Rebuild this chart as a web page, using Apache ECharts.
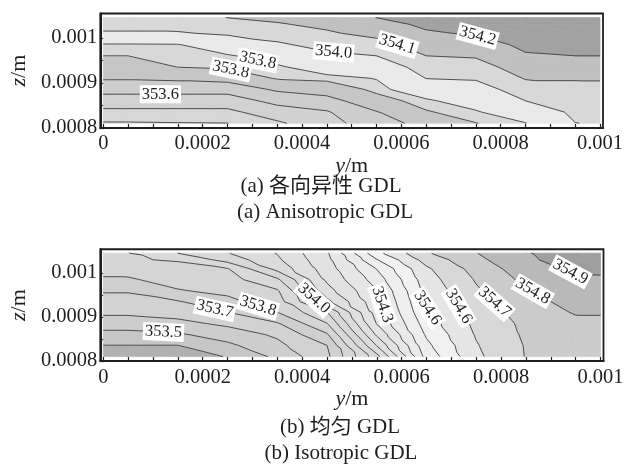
<!DOCTYPE html>
<html>
<head>
<meta charset="utf-8">
<title>GDL temperature contours</title>
<script src="https://cdn.jsdelivr.net/npm/echarts@6/dist/echarts.min.js"></script>
<style>
html, body { margin: 0; padding: 0; background: #fff; }
#chart { width: 627px; height: 468px; }
</style>
</head>
<body>
<div id="chart"></div>
<script>
// ---- mesh node coordinates (m) ----
const yNodes = [0, 0.00005, 0.00015, 0.00025, 0.00035, 0.00045, 0.00055, 0.00065, 0.00075, 0.00085, 0.00095, 0.001];
const zNodes = [0.00081, 0.000835, 0.00086, 0.000885, 0.00091, 0.000935, 0.00096, 0.000985, 0.00101, 0.00103, 0.001045];

// ---- nodal temperature (K): one row per zNodes entry (bottom -> top), one column per yNodes entry ----
const tempAniso = [
  [353.390, 353.390, 353.395, 353.398, 353.484, 353.565, 353.654, 353.735, 353.798, 353.836, 353.998, 354.010],
  [353.477, 353.477, 353.477, 353.477, 353.555, 353.592, 353.695, 353.794, 353.831, 353.910, 354.025, 354.033],
  [353.553, 353.553, 353.553, 353.553, 353.629, 353.662, 353.771, 353.827, 353.886, 354.000, 354.051, 354.057],
  [353.633, 353.633, 353.633, 353.633, 353.714, 353.748, 353.816, 353.899, 353.950, 354.054, 354.077, 354.080],
  [353.710, 353.710, 353.719, 353.736, 353.807, 353.818, 353.843, 354.002, 354.011, 354.106, 354.106, 354.106],
  [353.755, 353.755, 353.801, 353.812, 353.828, 353.886, 353.922, 354.051, 354.060, 354.149, 354.153, 354.153],
  [353.800, 353.800, 353.818, 353.831, 353.884, 353.976, 354.000, 354.100, 354.110, 354.192, 354.200, 354.200],
  [353.832, 353.832, 353.836, 353.911, 353.984, 354.038, 354.066, 354.145, 354.163, 354.218, 354.223, 354.225],
  [353.990, 353.990, 353.990, 354.018, 354.048, 354.089, 354.126, 354.190, 354.209, 354.241, 354.245, 354.248],
  [354.030, 354.030, 354.040, 354.066, 354.093, 354.119, 354.169, 354.216, 354.231, 354.259, 354.263, 354.266],
  [354.050, 354.050, 354.070, 354.101, 354.118, 354.138, 354.201, 354.233, 354.248, 354.272, 354.277, 354.280]
];
const tempIso = [
  [353.400, 353.400, 353.400, 353.444, 353.538, 353.661, 353.971, 354.427, 354.624, 354.723, 354.738, 354.745],
  [353.438, 353.438, 353.438, 353.502, 353.580, 353.679, 354.082, 354.460, 354.634, 354.725, 354.745, 354.755],
  [353.495, 353.495, 353.509, 353.558, 353.613, 353.750, 354.173, 354.491, 354.647, 354.732, 354.760, 354.767],
  [353.559, 353.559, 353.578, 353.616, 353.672, 353.837, 354.243, 354.520, 354.659, 354.738, 354.780, 354.782],
  [353.614, 353.614, 353.630, 353.676, 353.757, 353.915, 354.274, 354.550, 354.674, 354.753, 354.806, 354.806],
  [353.649, 353.649, 353.674, 353.739, 353.805, 354.057, 354.295, 354.568, 354.690, 354.774, 354.826, 354.828],
  [353.688, 353.688, 353.755, 353.780, 353.832, 354.130, 354.316, 354.586, 354.710, 354.794, 354.846, 354.848],
  [353.751, 353.751, 353.790, 353.809, 353.906, 354.175, 354.357, 354.605, 354.727, 354.820, 354.872, 354.872],
  [353.785, 353.790, 353.821, 353.838, 354.027, 354.201, 354.404, 354.628, 354.750, 354.846, 354.890, 354.892],
  [353.810, 353.835, 353.845, 353.952, 354.066, 354.219, 354.475, 354.672, 354.778, 354.871, 354.905, 354.910],
  [353.820, 353.838, 353.920, 353.996, 354.084, 354.231, 354.537, 354.711, 354.797, 354.875, 354.920, 354.930]
];

// ---- contour levels (K) ----
const levelsAniso = [353.4, 353.5, 353.6, 353.7, 353.8, 353.84, 354.0, 354.1, 354.2];
const levelsIso = [353.44, 353.52, 353.60, 353.68, 353.76, 353.84, 353.92, 354.00, 354.08, 354.16,
                   354.24, 354.32, 354.40, 354.48, 354.56, 354.64, 354.72, 354.80, 354.88];

// ---- axis ticks ----
const yTickLabels = [0, 0.0002, 0.0004, 0.0006, 0.0008, 0.001];
const yTickMarks = [0, 0.00005, 0.0001, 0.00015, 0.0002, 0.00025, 0.0003, 0.00035, 0.0004, 0.00045, 0.0005,
                    0.00055, 0.0006, 0.00065, 0.0007, 0.00075, 0.0008, 0.00085, 0.0009, 0.00095, 0.001];
const zTickLabels = [0.0008, 0.0009, 0.001];
const zTickMarks = [0.0008, 0.00085, 0.0009, 0.00095, 0.001];

// ---- captions ----
const captionAniso = ['(a) 各向异性 GDL', '(a) Anisotropic GDL'];
const captionIso = ['(b) 均匀 GDL', '(b) Isotropic GDL'];

// ---- where the inline level labels sit: [level, y, z] ----
const labelSpotsAniso = [
  [353.6, 0.000115, 0.000878], [353.8, 0.000255, 0.000921], [353.84, 0.000312, 0.000955],
  [354.0, 0.000463, 0.000960], [354.1, 0.000590, 0.000978], [354.2, 0.000750, 0.000989]
];
const labelSpotsIso = [
  [353.52, 0.000121, 0.000864], [353.68, 0.000223, 0.000911], [353.76, 0.000312, 0.000927],
  [354.00, 0.000426, 0.000945], [354.32, 0.000571, 0.000932], [354.56, 0.000646, 0.000916],
  [354.64, 0.000719, 0.000927], [354.72, 0.000780, 0.000925], [354.80, 0.000862, 0.000955],
  [354.88, 0.000935, 0.000993]
];

// ---- grey shade of each band (below first level ... above last level) ----
const bandGreysAniso = ['#d9d9d9', '#d7d7d7', '#d2d2d2', '#cdcdcd', '#c6c6c6', '#d8d8d8',
                        '#eaeaea', '#d8d8d8', '#c0c0c0', '#a2a2a2'];
const bandGreysIso = ['#b0b0b0', '#c6c6c6', '#cdcdcd', '#d2d2d2', '#cfcfcf', '#d5d5d5', '#d9d9d9',
                      '#d7d7d7', '#dbdbdb', '#dfdfdf', '#e2e2e2', '#e6e6e6', '#eaeaea', '#eeeeee',
                      '#f1f1f1', '#e5e5e5', '#d8d8d8', '#cbcbcb', '#b9b9b9', '#9e9e9e'];

const SERIF = '"Liberation Serif", "Times New Roman", "Noto Sans CJK SC", serif';
const INK = '#1e1e1e';

// ---------- contouring on a triangulated mesh ----------
function clipPoly(poly, f) {
  const out = [];
  for (let i = 0; i < poly.length; i++) {
    const p = poly[i], q = poly[(i + 1) % poly.length];
    const fp = f(p), fq = f(q);
    if (fp >= 0) out.push(p);
    if ((fp >= 0) !== (fq >= 0)) {
      const t = fp / (fp - fq);
      out.push({ y: p.y + t * (q.y - p.y), z: p.z + t * (q.z - p.z), v: p.v + t * (q.v - p.v) });
    }
  }
  return out;
}

function contour(ys, zs, T, levels) {
  const nx = ys.length, nz = zs.length;
  const node = (i, j) => ({ id: i * nx + j, y: ys[j], z: zs[i], v: T[i][j] });
  const bands = levels.map(() => []).concat([[]]);
  const segs = levels.map(() => []);
  for (let i = 0; i < nz - 1; i++) {
    for (let j = 0; j < nx - 1; j++) {
      const a = node(i, j), b = node(i, j + 1), c = node(i + 1, j + 1), d = node(i + 1, j);
      // split each cell along the top-left / bottom-right diagonal
      [[a, b, d], [b, c, d]].forEach(tri => {
        for (let k = 0; k <= levels.length; k++) {
          let poly = tri;
          if (k > 0) { const lo = levels[k - 1]; poly = clipPoly(poly, p => p.v - lo); }
          if (k < levels.length && poly.length) { const hi = levels[k]; poly = clipPoly(poly, p => hi - p.v); }
          if (poly.length >= 3) bands[k].push(poly.map(p => [p.y, p.z]));
        }
        levels.forEach((L, k) => {
          const pts = [];
          for (let e = 0; e < 3; e++) {
            let p = tri[e], q = tri[(e + 1) % 3];
            if (p.id > q.id) { const s = p; p = q; q = s; }
            if ((p.v >= L) !== (q.v >= L)) {
              const t = (L - p.v) / (q.v - p.v);
              pts.push([p.y + t * (q.y - p.y), p.z + t * (q.z - p.z)]);
            }
          }
          if (pts.length === 2) segs[k].push(pts);
        });
      });
    }
  }
  return { bands, lines: segs.map(chainSegments) };
}

function chainSegments(segs) {
  const key = p => Math.round(p[0] * 1e11) + ',' + Math.round(p[1] * 1e11);
  const ends = new Map();
  segs.forEach((s, idx) => s.forEach(p => {
    const k = key(p);
    if (!ends.has(k)) ends.set(k, []);
    ends.get(k).push(idx);
  }));
  const used = segs.map(() => false);
  const out = [];
  segs.forEach((s0, i) => {
    if (used[i]) return;
    used[i] = true;
    const line = [s0[0], s0[1]];
    [1, -1].forEach(dir => {
      for (;;) {
        const tail = dir === 1 ? line[line.length - 1] : line[0];
        const j = (ends.get(key(tail)) || []).find(n => !used[n]);
        if (j === undefined) break;
        used[j] = true;
        const s = segs[j];
        const next = key(s[0]) === key(tail) ? s[1] : s[0];
        if (dir === 1) line.push(next); else line.unshift(next);
      }
    });
    out.push(line);
  });
  return out;
}

const measureCtx = document.createElement('canvas').getContext('2d');
function textWidth(str, font) { measureCtx.font = font; return measureCtx.measureText(str).width; }

// ---------- panels ----------
const Z_MAX = 0.001054;
const Y_MIN = -0.000006, Y_MAX = 0.001006;
const panels = [
  { T: tempAniso, levels: levelsAniso, greys: bandGreysAniso, spots: labelSpotsAniso, caption: captionAniso,
    grid: { left: 94, top: 13.5, width: 509, height: (Z_MAX - 0.0008) * 450000 }, capX: [321, 325], capY: [186, 212] },
  { T: tempIso, levels: levelsIso, greys: bandGreysIso, spots: labelSpotsIso, caption: captionIso,
    grid: { left: 88.5, top: 361 - (Z_MAX - 0.0008) * 440000, width: 515, height: (Z_MAX - 0.0008) * 440000 }, capX: [340, 341], capY: [427, 453] }
];

const grids = [], xAxes = [], yAxes = [], series = [], graphics = [];
const fmt = v => String(+v.toPrecision(6));
const nameStyle = { color: INK, fontFamily: SERIF, fontSize: 22, rich: { i: { fontStyle: 'italic', fontFamily: SERIF, fontSize: 22, color: INK } } };

panels.forEach((P, pi) => {
  const geo = contour(yNodes, zNodes, P.T, P.levels);
  grids.push(Object.assign({ show: true, borderColor: INK, borderWidth: 1.8, backgroundColor: 'transparent' }, P.grid));
  xAxes.push({
    gridIndex: pi, type: 'value', min: Y_MIN, max: Y_MAX,
    axisLine: { show: true, onZero: false, lineStyle: { color: INK, width: 2 } },
    axisTick: { show: true, inside: true, length: 4, customValues: yTickMarks, lineStyle: { color: INK, width: 1.2 } },
    axisLabel: { customValues: yTickLabels, formatter: fmt, color: INK, fontFamily: SERIF, fontSize: 20.5, margin: 6 },
    splitLine: { show: false },
    name: '{i|y}/m', nameLocation: 'middle', nameGap: 21, nameTextStyle: nameStyle
  });
  yAxes.push({
    gridIndex: pi, type: 'value', min: 0.0008, max: Z_MAX,
    axisLine: { show: true, onZero: false, lineStyle: { color: INK, width: 2 } },
    axisTick: { show: true, inside: true, length: 4, customValues: zTickMarks, lineStyle: { color: INK, width: 1.2 } },
    axisLabel: { customValues: zTickLabels, formatter: fmt, color: INK, fontFamily: SERIF, fontSize: 20.5, margin: 3 },
    splitLine: { show: false },
    name: '{i|z}/m', nameLocation: 'middle', nameRotate: 90, nameGap: 68, nameTextStyle: nameStyle
  });

  // filled bands
  series.push({
    type: 'custom', xAxisIndex: pi, yAxisIndex: pi, silent: true, clip: true,
    data: geo.bands.map((_, k) => [k]),
    renderItem: (params, api) => {
      const k = params.dataIndex;
      return {
        type: 'group',
        children: geo.bands[k].map(poly => ({
          type: 'polygon',
          shape: { points: poly.map(p => api.coord(p)) },
          style: { fill: P.greys[k], stroke: P.greys[k], lineWidth: 0.7 }
        }))
      };
    }
  });

  // contour lines
  series.push({
    type: 'custom', xAxisIndex: pi, yAxisIndex: pi, silent: true, clip: true,
    data: P.levels.map((_, k) => [k]),
    renderItem: (params, api) => {
      const k = params.dataIndex;
      return {
        type: 'group',
        children: geo.lines[k].map(line => ({
          type: 'polyline',
          shape: { points: line.map(p => api.coord(p)) },
          style: { stroke: '#474747', lineWidth: 0.95, fill: null, lineJoin: 'round' }
        }))
      };
    }
  });

  // inline level labels, snapped onto their contour
  const labelFont = '16.5px ' + SERIF;
  series.push({
    type: 'custom', xAxisIndex: pi, yAxisIndex: pi, silent: true,
    data: P.spots.map((_, k) => [k]),
    renderItem: (params, api) => {
      const [L, y0, z0] = P.spots[params.dataIndex];
      const k = P.levels.findIndex(v => Math.abs(v - L) < 1e-6);
      const target = api.coord([y0, z0]);
      let best = null;
      (geo.lines[k] || []).forEach(line => {
        const px = line.map(p => api.coord(p));
        for (let i = 0; i < px.length - 1; i++) {
          const a = px[i], b = px[i + 1];
          const dx = b[0] - a[0], dy = b[1] - a[1];
          const len2 = dx * dx + dy * dy || 1e-9;
          let t = ((target[0] - a[0]) * dx + (target[1] - a[1]) * dy) / len2;
          t = Math.max(0, Math.min(1, t));
          const qx = a[0] + t * dx, qy = a[1] + t * dy;
          const d = Math.hypot(qx - target[0], qy - target[1]);
          if (!best || d < best.d) best = { d, x: qx, y: qy, dx, dy };
        }
      });
      if (!best) return null;
      let { dx, dy } = best;
      if (dx < 0) { dx = -dx; dy = -dy; }
      const ang = Math.atan2(dy, dx);
      const text = L.toFixed(1);
      const w = textWidth(text, labelFont);
      return {
        type: 'group', x: best.x, y: best.y, rotation: -ang,
        children: [
          { type: 'rect', shape: { x: -w / 2 - 2, y: -9, width: w + 4, height: 18 }, style: { fill: '#ffffff' } },
          { type: 'text', x: 0, y: 0, style: { text, font: labelFont, fill: INK, align: 'center', verticalAlign: 'middle', textAlign: 'center', textVerticalAlign: 'middle' } }
        ]
      };
    }
  });

  P.caption.forEach((t, i) => {
    graphics.push({
      type: 'text', x: P.capX[i], y: P.capY[i], silent: true,
      style: { text: t, font: '21px ' + SERIF, fill: INK, align: 'center', verticalAlign: 'middle', textAlign: 'center', textVerticalAlign: 'middle' }
    });
  });
});

const chart = echarts.init(document.getElementById('chart'));
chart.setOption({
  animation: false,
  backgroundColor: '#ffffff',
  grid: grids,
  xAxis: xAxes,
  yAxis: yAxes,
  series,
  graphic: graphics
});
</script>
</body>
</html>
